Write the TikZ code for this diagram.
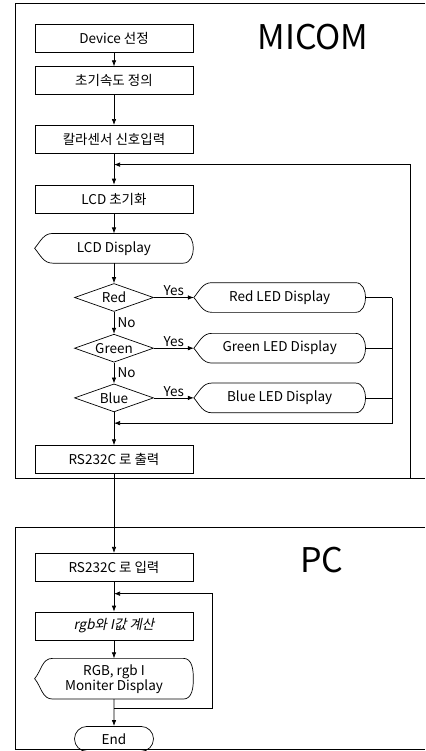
\documentclass[tikz,border=0pt]{standalone}
\usepackage{fontspec}
\setmainfont{Noto Sans CJK KR}
\newfontfamily\slantfont{Noto Sans CJK KR}[FakeSlant=0.2]
\usetikzlibrary{positioning, arrows.meta, calc, shapes.geometric, shapes.misc}

\begin{document}
\begin{tikzpicture}[
    x=1pt, y={(0pt,-1pt)},
    font=\fontsize{13.5}{15}\selectfont,
    >={Latex[length=6pt, width=4.5pt]},
    line width=0.7pt,
    box/.style={draw, rectangle, minimum width=158pt, minimum height=28pt, inner sep=1pt},
    disp/.style={rectangle, minimum width=158pt, minimum height=29pt, inner sep=1pt, align=center},
    dec/.style={draw, diamond, aspect=2.8, minimum width=79pt, minimum height=28pt, inner sep=0pt},
    term/.style={draw, rounded rectangle, minimum width=81pt, minimum height=25pt, inner sep=1pt},
    title/.style={font=\fontsize{34}{36}\selectfont}
]

    % --- Makro: Display-Symbol um einen Knoten zeichnen ---
    \newcommand{\displayOutline}[1]{
        \draw ([xshift=18pt]#1.north west) -- ([xshift=-10pt]#1.north east)
            to[out=0, in=90] (#1.east) to[out=-90, in=0] ([xshift=-10pt]#1.south east)
            -- ([xshift=18pt]#1.south west) to[out=180, in=-50] (#1.west)
            to[out=50, in=180] cycle;
    }

    \useasboundingbox (0,0) rectangle (425,751);

    % Rahmen MICOM / PC (rechts offen)
    \draw (425,3) -| (15,478) -- (425,478);
    \draw (425,527) -| (15,749) -- (425,749);
    \node (micom) [title] at (313,37) {MICOM};
    \node (pc) [title] at (322,560) {PC};

    % --- MICOM ---
    \node (device) [box] at (114,38) {Device 선정};
    \node (speed) [box, below=14pt of device] {초기속도 정의};
    \node (sensor) [box, below=30pt of speed] {칼라센서 신호입력};
    \node (lcdinit) [box, below=31pt of sensor] {LCD 초기화};
    \node (lcddisp) [disp, below=20pt of lcdinit] {LCD Display};
    \displayOutline{lcddisp}

    % Farbabfrage
    \node (red) [dec, below=20pt of lcddisp] {Red};
    \node (green) [dec, below=22pt of red] {Green};
    \node (blue) [dec, below=21pt of green] {Blue};
    \node (redled) [disp, minimum width=171pt, right=40pt of red] {Red LED Display};
    \node (greenled) [disp, minimum width=171pt, right=40pt of green] {Green LED Display};
    \node (blueled) [disp, minimum width=171pt, right=40pt of blue] {Blue LED Display};
    \displayOutline{redled}
    \displayOutline{greenled}
    \displayOutline{blueled}

    \node (rsout) [box, below=33pt of blue] {RS232C 로 출력};

    % --- PC ---
    \node (rsin) [box, below=79pt of rsout] {RS232C 로 입력};
    \node (calcbox) [box, below=30pt of rsin] {\slantfont rgb와 I값 계산};
    \node (monitor) [disp, minimum height=40pt, below=18pt of calcbox] {RGB, rgb I\\Moniter Display};
    \displayOutline{monitor}
    \node (end) [term, below=27pt of monitor] {End};

    % Hilfspunkte fuer die Rueckfuehrungen
    \coordinate (outerX) at (410,0);
    \coordinate (innerX) at (392,0);
    \coordinate (pcX) at (212,0);
    \coordinate (joinLcd) at ($(sensor.south)!0.35!(lcdinit.north)$);
    \coordinate (joinOut) at ($(blue.south)!0.33!(rsout.north)$);
    \coordinate (tapOut) at ($(rsout.south)+(0,4)$);
    \coordinate (joinCalc) at ($(rsin.south)!0.4!(calcbox.north)$);
    \coordinate (tapMon) at ($(monitor.south)!0.35!(end.north)$);

    % Pfeile Hauptfluss
    \draw[->] (device) -- (speed);
    \draw[->] (speed) -- (sensor);
    \draw[->] (sensor) -- (lcdinit);
    \draw[->] (lcdinit) -- (lcddisp);
    \draw[->] (lcddisp) -- (red);
    \draw[->] (red) -- node[right] {No} (green);
    \draw[->] (green) -- node[right] {No} (blue);
    \draw[->] (blue) -- (rsout);
    \draw[->] (rsout) -- (rsin);
    \draw[->] (rsin) -- (calcbox);
    \draw[->] (calcbox) -- (monitor);
    \draw[->] (monitor) -- (end);

    % Yes-Zweige
    \draw[->] (red) -- node[above, inner sep=1pt] {Yes} (redled);
    \draw[->] (green) -- node[above, inner sep=1pt] {Yes} (greenled);
    \draw[->] (blue) -- node[above, inner sep=1pt] {Yes} (blueled);

    % Rueckfuehrungen
    \draw (redled.east) -- (redled.east -| innerX);
    \draw (greenled.east) -- (greenled.east -| innerX);
    \draw (blueled.east) -- (blueled.east -| innerX);
    \draw[->] (redled.east -| innerX) |- (joinOut);
    \draw[->] (tapOut) -- (tapOut -| outerX) |- (joinLcd);
    \draw[->] (tapMon) -- (tapMon -| pcX) |- (joinCalc);

\end{tikzpicture}
\end{document}
